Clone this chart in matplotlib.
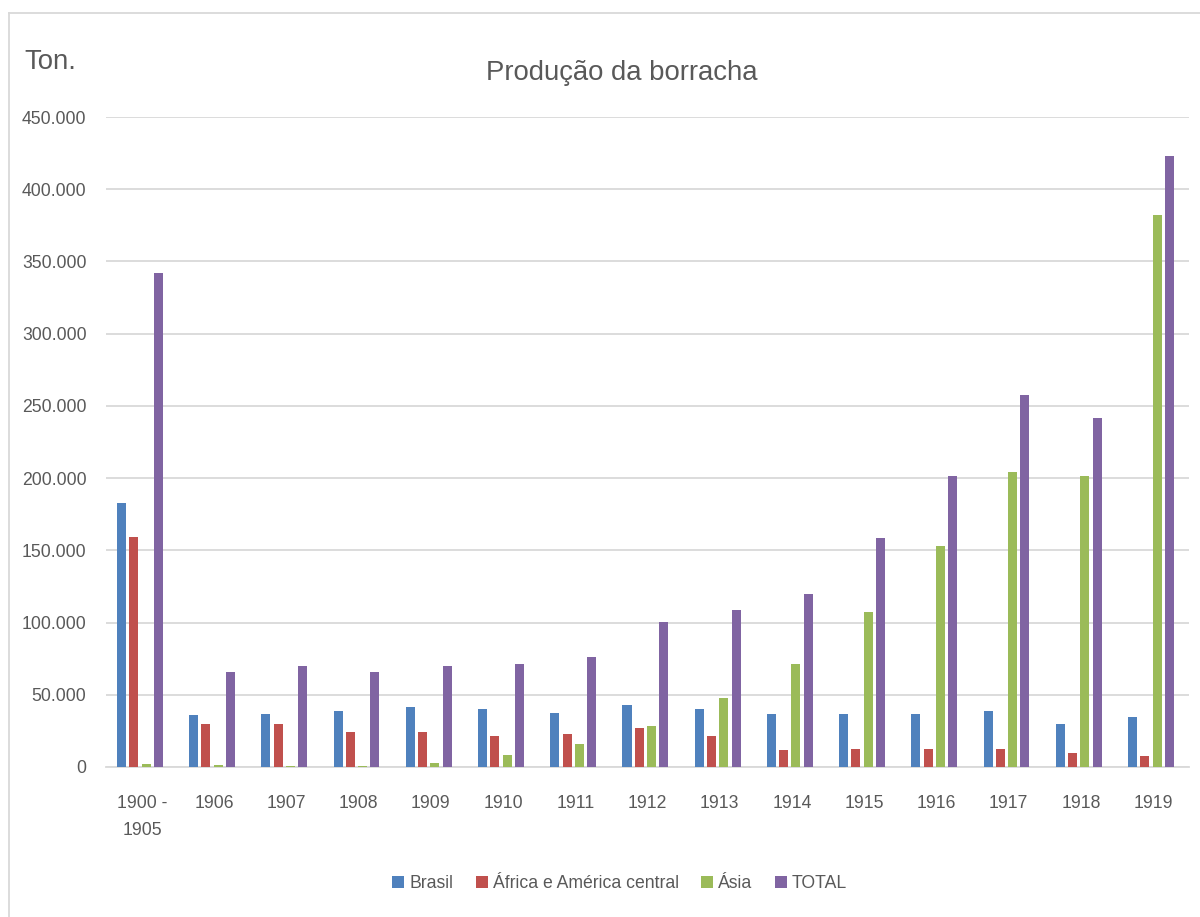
import matplotlib
matplotlib.use("Agg")
import matplotlib.pyplot as plt
from matplotlib.lines import Line2D
import numpy as np

# Rubber production in tonnes, by origin
categories = ["1900 -\n1905", "1906", "1907", "1908", "1909", "1910", "1911",
              "1912", "1913", "1914", "1915", "1916", "1917", "1918", "1919"]
brasil = [183000, 36000, 37000, 39000, 41500, 40000, 37500,
          43000, 40000, 37000, 37000, 37000, 38500, 30000, 34500]
africa = [159000, 30000, 30000, 24500, 24500, 21500, 23000,
          27000, 21500, 11500, 12500, 12500, 12500, 10000, 7500]
asia = [2000, 1500, 1000, 1000, 3000, 8500, 16000,
        28500, 47500, 71500, 107500, 153000, 204500, 201500, 382000]
total = [342000, 66000, 70000, 66000, 70000, 71500, 76000,
         100500, 108500, 120000, 158500, 201500, 257500, 241500, 423000]

series_names = ["Brasil", "África e América central", "Ásia", "TOTAL"]
series_values = [brasil, africa, asia, total]
colors = ["#4F81BD", "#C0504D", "#9BBB59", "#8064A2"]
yticks = [0, 50000, 100000, 150000, 200000, 250000, 300000, 350000, 400000, 450000]

plt.rcParams["font.family"] = ["Liberation Sans", "DejaVu Sans"]
text_color = "#595959"
grid_color = "#D9D9D9"
tick_size = 12.7

fig = plt.figure(figsize=(12, 9.17), dpi=100)
ax = fig.add_axes([0.0883, 0.1636, 0.9027, 0.7088])

x = np.arange(len(categories))
step = 0.17
width = 0.125
for j, (name, vals, col) in enumerate(zip(series_names, series_values, colors)):
    ax.bar(x + (j - 1.5) * step - 0.03, vals, width=width, color=col, label=name, zorder=3)

ax.set_xlim(-0.5, len(categories) - 0.5)
ax.set_ylim(0, 450000)
ax.set_yticks(yticks)
ax.set_yticklabels([f"{v:,}".replace(",", ".") for v in yticks])
ax.set_xticks(x)
ax.set_xticklabels(categories, linespacing=1.75)

ax.grid(axis="y", color=grid_color, linewidth=1.3, zorder=0)
for side in ["top", "right", "left"]:
    ax.spines[side].set_visible(False)
ax.spines["bottom"].set_color(grid_color)
ax.spines["bottom"].set_linewidth(1.3)
ax.tick_params(axis="both", length=0, labelsize=tick_size, colors=text_color)
ax.tick_params(axis="y", pad=14)
ax.tick_params(axis="x", pad=20)

fig.text(0.5183, 1 - 73 / 917, "Produção da borracha", ha="center", va="center",
         fontsize=19.8, color=text_color)
fig.text(24 / 1200, 1 - 62 / 917, "Ton.", ha="left", va="center",
         fontsize=19.8, color=text_color)

fig.legend(loc="center", bbox_to_anchor=(0.5165, 1 - 884 / 917), ncol=4, frameon=False,
           fontsize=tick_size, handlelength=0.68, handleheight=0.68, handletextpad=0.3,
           columnspacing=1.25, labelcolor=text_color)

# Chart frame: left and top edges
fig.add_artist(Line2D([9 / 1200, 9 / 1200], [0, 1 - 13 / 917], transform=fig.transFigure,
                      color=grid_color, linewidth=1.3))
fig.add_artist(Line2D([9 / 1200, 1], [1 - 13 / 917, 1 - 13 / 917], transform=fig.transFigure,
                      color=grid_color, linewidth=1.3))

fig.savefig("out.png", dpi=100, facecolor="white")
